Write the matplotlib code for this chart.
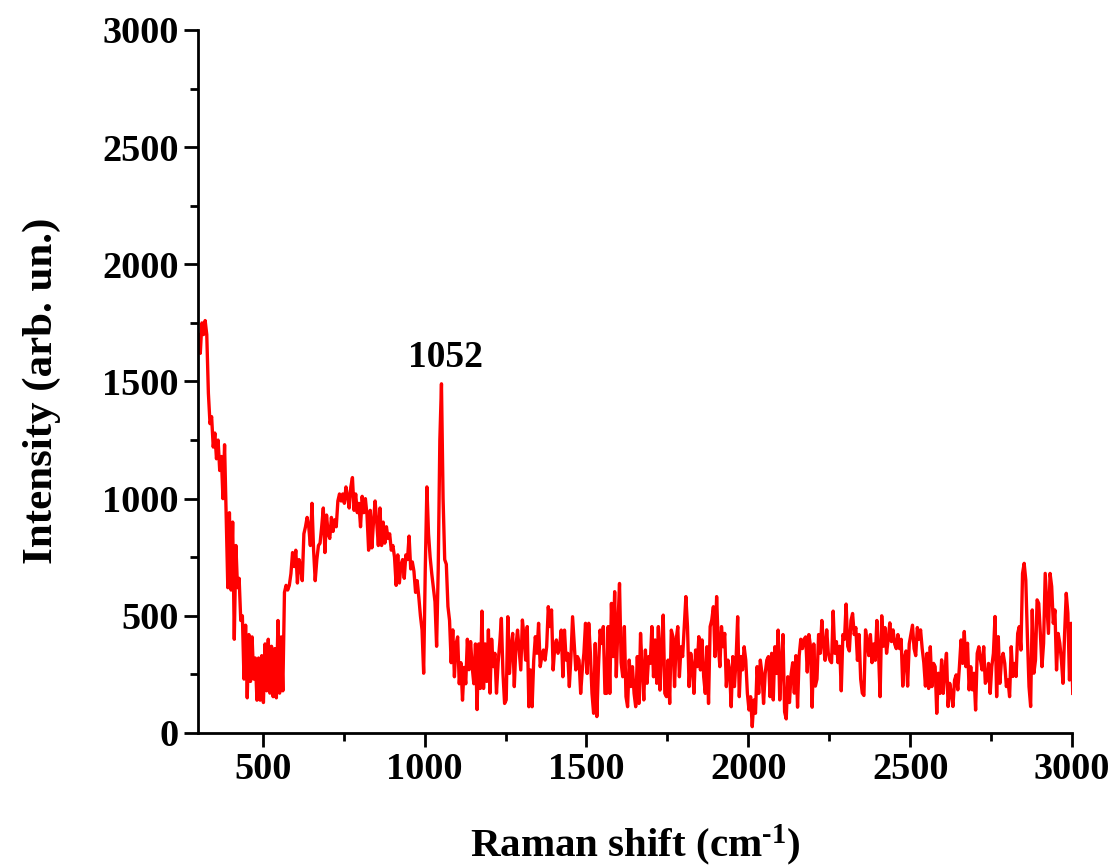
import numpy as np
import matplotlib
matplotlib.use("Agg")
import matplotlib.pyplot as plt
from matplotlib.ticker import MultipleLocator

plt.rcParams.update({
    "font.family": ["Liberation Serif", "DejaVu Serif"],
    "font.weight": "bold",
    "mathtext.fontset": "custom",
    "mathtext.rm": "Liberation Serif:bold",
    "mathtext.it": "Liberation Serif:italic:bold",
    "mathtext.bf": "Liberation Serif:bold",
})

# Raman spectrum, sampled every 5 cm-1 starting at 302 cm-1
shift_start = 302
shift_step = 5

# 302 - 757 cm-1
intensity_a = [
    1700, 1620, 1750, 1700, 1760, 1700, 1450, 1320, 1350, 1220,
    1280, 1170, 1250, 1120, 1180, 1000, 1230, 930, 620, 940,
    610, 900, 400, 800, 620, 660, 480, 500, 230, 460,
    150, 420, 220, 410, 230, 320, 140, 320, 140, 330,
    130, 380, 180, 400, 170, 370, 155, 360, 150, 480,
    170, 410, 180, 600, 630, 610, 630, 680, 770, 710,
    780, 640, 740, 710, 650, 850, 880, 920, 880, 800,
    980, 780, 650, 740, 800, 810, 880, 960, 770, 930,
    850, 830, 920, 860, 910, 880, 990, 1020, 990, 1020,
    980, 1050,
]
# 762 - 1202 cm-1
intensity_b = [
    1010, 960, 1050, 1090, 950, 1020, 940, 980, 880, 1010,
    940, 1000, 930, 780, 950, 790, 900, 990, 900, 800,
    960, 800, 900, 810, 880, 830, 850, 780, 800, 750,
    630, 760, 640, 720, 740, 660, 760, 740, 840, 700,
    730, 690, 600, 650, 580, 500, 440, 255, 700, 1050,
    850, 750, 680, 620, 560, 370, 700, 1250, 1490, 1000,
    740, 720, 540, 480, 300, 440, 240, 380, 410, 210,
    300, 140, 280, 210, 400, 270, 390, 280, 210, 380,
    100, 380, 190, 520, 190, 380, 220, 440, 170,
]
# 1207 - 1657 cm-1
intensity_c = [
    400, 283, 340, 170, 300, 382, 489, 254, 126, 141,
    496, 254, 368, 425, 198, 368, 439, 354, 269, 482,
    411, 311, 454, 112, 269, 112, 311, 411, 340, 468,
    283, 326, 354, 311, 368, 539, 454, 525, 269, 368,
    397, 340, 368, 439, 240, 439, 311, 340, 198, 326,
    496, 382, 269, 326, 311, 169, 269, 340, 468, 254,
    468, 340, 169, 84, 382, 70, 283, 439, 382, 454,
    169, 169, 454, 169, 553, 326, 603, 240, 454, 638,
    300, 240, 454, 155, 112, 311, 198, 283, 169, 112,
    326,
]
# 1662 - 2102 cm-1
intensity_d = [
    126, 425, 269, 141, 354, 212, 326, 297, 454, 240,
    397, 212, 454, 183, 368, 503, 169, 155, 311, 126,
    439, 411, 198, 397, 454, 240, 368, 326, 454, 582,
    454, 198, 340, 283, 169, 354, 283, 411, 269, 397,
    240, 169, 368, 126, 454, 482, 539, 326, 582, 382,
    283, 454, 368, 425, 198, 311, 269, 112, 326, 198,
    311, 496, 155, 326, 269, 368, 311, 169, 98, 155,
    27, 141, 84, 283, 169, 311, 254, 126, 254, 311,
    326, 155, 340, 141, 368, 254, 439, 141, 300,
]
# 2107 - 2557 cm-1
intensity_e = [
    420, 90, 60, 240, 130, 250, 300, 170, 330, 110,
    330, 400, 360, 400, 410, 260, 420, 370, 110, 380,
    200, 230, 420, 340, 480, 380, 310, 440, 340, 310,
    300, 520, 340, 390, 300, 370, 180, 420, 400, 550,
    370, 350, 480, 510, 420, 450, 310, 420, 230, 170,
    160, 440, 390, 330, 420, 300, 380, 310, 480, 350,
    155, 500, 370, 450, 340, 400, 470, 390, 440, 380,
    360, 420, 360, 400, 200, 320, 350, 200, 380, 420,
    460, 360, 330, 450, 400, 440, 360, 300, 200, 340,
    190,
]
# 2562 - 3002 cm-1
intensity_f = [
    368, 198, 297, 283, 84, 255, 169, 312, 169, 269,
    340, 113, 212, 169, 113, 226, 248, 184, 283, 397,
    297, 433, 283, 383, 184, 283, 184, 255, 98, 340,
    368, 312, 269, 368, 212, 226, 297, 169, 283, 340,
    497, 155, 411, 212, 312, 340, 297, 198, 226, 155,
    368, 241, 297, 241, 425, 454, 354, 681, 724, 653,
    411, 198, 113, 525, 255, 312, 568, 553, 425, 283,
    383, 681, 553, 425, 681, 625, 468, 525, 269, 425,
    383, 312, 212, 425, 596, 511, 226, 468, 169,
]

intensity = np.array(intensity_a + intensity_b + intensity_c
                     + intensity_d + intensity_e + intensity_f, dtype=float)
raman_shift = shift_start + shift_step * np.arange(intensity.size)

x_ticks = [500, 1000, 1500, 2000, 2500, 3000]
y_ticks = [0, 500, 1000, 1500, 2000, 2500, 3000]

fig = plt.figure(figsize=(11.15, 8.66), dpi=100)
ax = fig.add_axes([0.1776, 0.1536, 0.7839, 0.8118])

ax.plot(raman_shift, intensity, color="#ff0000", linewidth=2.4)

ax.set_xlim(300, 3000)
ax.set_ylim(0, 3000)
ax.set_xticks(x_ticks)
ax.set_yticks(y_ticks)
ax.xaxis.set_minor_locator(MultipleLocator(250))
ax.yaxis.set_minor_locator(MultipleLocator(250))

for side in ("top", "right"):
    ax.spines[side].set_visible(False)
for side in ("left", "bottom"):
    ax.spines[side].set_linewidth(2.0)

ax.tick_params(which="major", direction="out", length=10, width=2.0,
               labelsize=27.5, pad=4)
ax.tick_params(which="minor", direction="out", length=6, width=2.0)
for lab in ax.get_xticklabels() + ax.get_yticklabels():
    lab.set_fontweight("bold")

# label the strongest band near 1050 cm-1
window = (raman_shift > 1030) & (raman_shift < 1080)
peak_idx = np.argmax(np.where(window, intensity, -np.inf))
peak_x = raman_shift[peak_idx]
peak_y = intensity[peak_idx]
ax.annotate(f"{peak_x:.0f}", xy=(peak_x, peak_y), xytext=(3, 6),
            textcoords="offset points", ha="center", va="bottom",
            fontsize=27, fontweight="bold")

fig.text(42 / 1115, 1 - 391 / 866, "Intensity (arb. un.)", rotation=90,
         ha="center", va="center", fontsize=31, fontweight="bold")
fig.text(635 / 1115, 1 - 845 / 866, "Raman shift (cm$^{\u20101}$)",
         ha="center", va="center", fontsize=29.5, fontweight="bold")

fig.savefig("out.png", dpi=100)
